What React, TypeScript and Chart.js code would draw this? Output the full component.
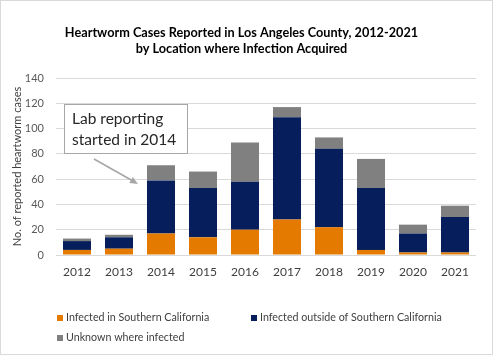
import React, { useEffect, useRef } from "react";
import { Chart, registerables } from "chart.js";

Chart.register(...registerables);

const categories = ["2012", "2013", "2014", "2015", "2016", "2017", "2018", "2019", "2020", "2021"];
const infectedSoCal = [4, 5, 17, 14, 20, 28, 22, 4, 2, 2];
const infectedOutside = [7, 9, 42, 39, 38, 81, 62, 49, 15, 28];
const unknownWhere = [2, 2, 12, 13, 31, 8, 9, 23, 7, 9];
const seriesNames = [
  "Infected in Southern California",
  "Infected outside of Southern California",
  "Unknown where infected",
];
const seriesColors = ["#E47B00", "#061F5C", "#808080"];
const titleLines = [
  "Heartworm Cases Reported in Los Angeles County, 2012-2021",
  "by Location where Infection Acquired",
];
const annotationLines = ["Lab reporting", "started in 2014"];
const yTitle = "No. of reported heartworm cases";
const yMax = 140;
const yStep = 20;

const FONT = "Lato, 'Open Sans', sans-serif";

const decorPlugin = {
  id: "decor",
  afterDraw(chart: any) {
    const ctx = chart.ctx as CanvasRenderingContext2D;
    ctx.save();
    // outer frame
    ctx.strokeStyle = "#d9d9d9";
    ctx.lineWidth = 1;
    ctx.strokeRect(0.5, 0.5, chart.width - 1, chart.height - 1);

    // title
    ctx.fillStyle = "#000000";
    ctx.font = `bold 12.7px ${FONT}`;
    ctx.textAlign = "center";
    ctx.textBaseline = "middle";
    ctx.fillText(titleLines[0], 241.5, 33);
    ctx.fillText(titleLines[1], 241.5, 49);

    // annotation box
    ctx.fillStyle = "#ffffff";
    ctx.fillRect(64, 104, 123, 49);
    ctx.strokeStyle = "#a6a6a6";
    ctx.strokeRect(64.5, 104.5, 123, 49);
    ctx.fillStyle = "#262626";
    ctx.font = `15.5px ${FONT}`;
    ctx.textAlign = "left";
    ctx.fillText(annotationLines[0], 72, 119);
    ctx.fillText(annotationLines[1], 72, 140);

    // arrow
    const x1 = 94, y1 = 159, x2 = 138, y2 = 184;
    ctx.strokeStyle = "#a6a6a6";
    ctx.fillStyle = "#a6a6a6";
    ctx.lineWidth = 1.5;
    ctx.beginPath();
    ctx.moveTo(x1, y1);
    ctx.lineTo(x2 - 5, y2 - 3);
    ctx.stroke();
    const ang = Math.atan2(y2 - y1, x2 - x1);
    ctx.beginPath();
    ctx.moveTo(x2, y2);
    ctx.lineTo(x2 - 8 * Math.cos(ang) + 3.5 * Math.sin(ang), y2 - 8 * Math.sin(ang) - 3.5 * Math.cos(ang));
    ctx.lineTo(x2 - 8 * Math.cos(ang) - 3.5 * Math.sin(ang), y2 - 8 * Math.sin(ang) + 3.5 * Math.cos(ang));
    ctx.closePath();
    ctx.fill();

    // legend
    const items = [
      { x: 57, y: 318 },
      { x: 251, y: 318 },
      { x: 57, y: 338 },
    ];
    ctx.font = `10.7px ${FONT}`;
    ctx.textBaseline = "middle";
    items.forEach((it, i) => {
      ctx.fillStyle = seriesColors[i];
      ctx.fillRect(it.x, it.y - 3, 6, 6);
      ctx.fillStyle = "#404040";
      ctx.fillText(seriesNames[i], it.x + 9, it.y);
    });
    ctx.restore();
  },
};

export default function App() {
  const canvasRef = useRef<HTMLCanvasElement | null>(null);

  useEffect(() => {
    const canvas = canvasRef.current;
    if (!canvas) return;
    const chart = new Chart(canvas, {
      type: "bar",
      data: {
        labels: categories,
        datasets: [
          { label: seriesNames[0], data: infectedSoCal, backgroundColor: seriesColors[0] },
          { label: seriesNames[1], data: infectedOutside, backgroundColor: seriesColors[1] },
          { label: seriesNames[2], data: unknownWhere, backgroundColor: seriesColors[2] },
        ],
      },
      options: {
        animation: false,
        responsive: false,
        maintainAspectRatio: false,
        events: [],
        layout: { padding: { left: 11, top: 78, right: 17, bottom: 65 } },
        datasets: { bar: { categoryPercentage: 1, barPercentage: 0.667 } },
        plugins: {
          legend: { display: false },
          title: { display: false },
          tooltip: { enabled: false },
        },
        scales: {
          x: {
            stacked: true,
            grid: { display: false, drawTicks: false },
            border: { display: false },
            ticks: { color: "#404040", font: { family: FONT, size: 12 }, padding: 10, maxRotation: 0 },
            afterFit: (s: any) => { s.height = 35; },
          },
          y: {
            stacked: true,
            min: 0,
            max: yMax,
            grid: { color: "#d9d9d9", lineWidth: 1, drawTicks: false },
            border: { display: false },
            ticks: { stepSize: yStep, color: "#595959", font: { family: FONT, size: 11 }, padding: 12 },
            title: {
              display: true,
              text: yTitle,
              color: "#404040",
              font: { family: FONT, size: 11 },
              padding: { top: 0, bottom: 0 },
            },
            afterFit: (s: any) => { s.width = 45; },
          },
        },
      },
      plugins: [decorPlugin],
    });
    return () => chart.destroy();
  }, []);

  return (
    <div style={{ position: "fixed", left: 0, top: 0, width: 493, height: 355, background: "#fff" }}>
      <canvas ref={canvasRef} width={493} height={355} style={{ display: "block", width: 493, height: 355 }} />
    </div>
  );
}
